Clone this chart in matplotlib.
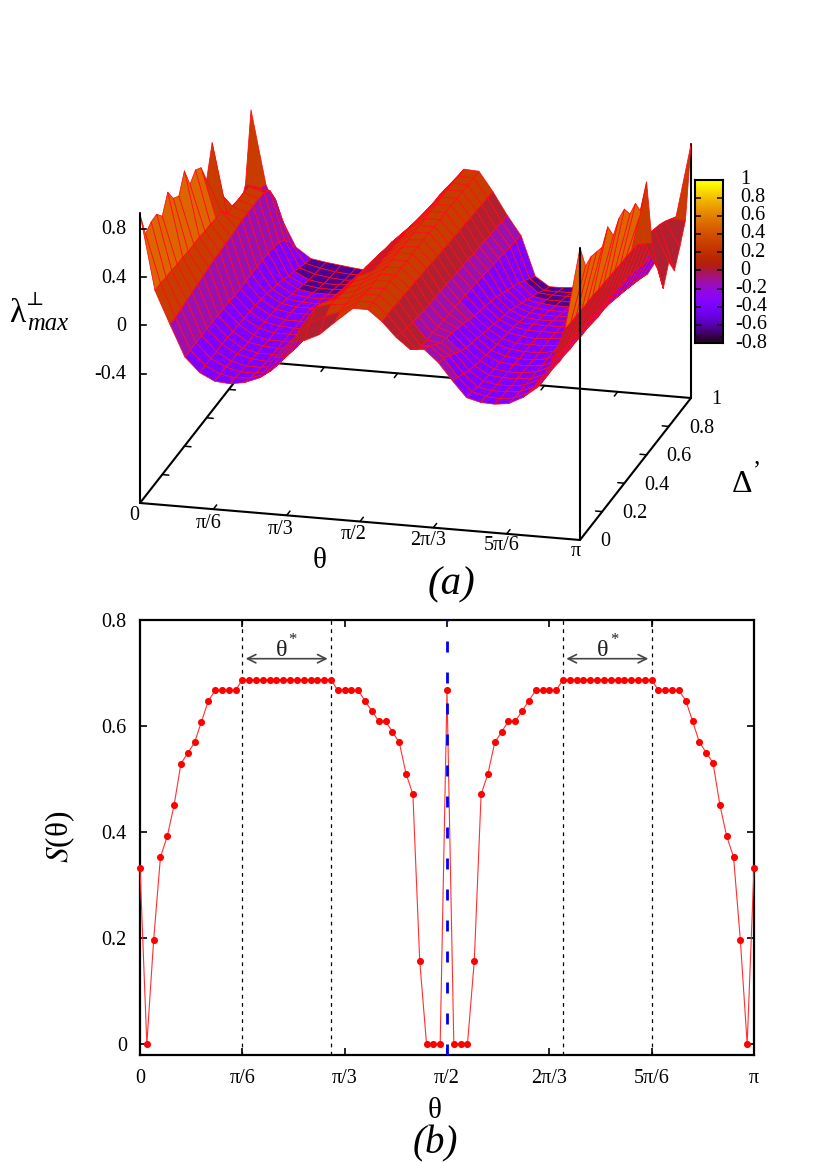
import numpy as np
import matplotlib
matplotlib.use("Agg")
import matplotlib.pyplot as plt
from matplotlib.collections import PolyCollection

plt.rcParams['font.family'] = ['Liberation Serif', 'DejaVu Serif']
plt.rcParams['mathtext.fontset'] = 'stix'

# ---------- panel (a): surface data ----------
THETA_FRAC = [0, .034, .068, .102, .136, .17, .204, .238, .272, .306, .34, .374, .408, .442, .484, .518,
              .55, .582, .614, .646, .678, .71, .742, .774, .806, .838, .87, .902, .934, .966, 1]   # theta / pi
DELTA = [0, .05, .1, .15, .2, .25, .3, .35, .4, .45, .5, .55, .6, .65, .7, .75, .8, .85, .9, .95, 1]
Z_COL_00 = [.92,.70,.74,.745,.67,.81,.70,.66,.81,.64,.70,.66,.50,.75,.30,.03,.0,-.04,-.08,.05,.61]
Z_COL_01 = [.30,.30,.29,.29,.28,.28,.27,.27,.27,.26,.26,.25,.25,.17,.17,.17,.17,.16,.08,.03,.0]
Z_COL_02 = [.03,.03,.04,.05,.06,.07,.08,.09,.1,.1,.11,.11,.12,.13,.13,.13,.13,.12,.08,-.05,-.26]
Z_COL_03 = [-.23,-.23,-.23,-.23,-.23,-.23,-.24,-.24,-.24,-.25,-.25,-.25,-.25,-.25,-.25,-.25,-.26,-.28,-.32,-.4,-.495]
Z_COL_04 = [-.35,-.35,-.35,-.35,-.35,-.35,-.36,-.36,-.37,-.37,-.38,-.39,-.4,-.42,-.44,-.46,-.49,-.51,-.54,-.56,-.58]
Z_COL_05 = [-.41,-.41,-.41,-.42,-.42,-.43,-.44,-.44,-.44,-.45,-.45,-.46,-.47,-.49,-.51,-.53,-.55,-.57,-.58,-.59,-.60]
Z_COL_06 = [-.42,-.43,-.44,-.45,-.45,-.46,-.46,-.47,-.47,-.47,-.48,-.48,-.49,-.51,-.53,-.55,-.57,-.59,-.60,-.61,-.615]
Z_COL_07 = [-.40,-.42,-.44,-.45,-.46,-.46,-.47,-.47,-.47,-.48,-.48,-.48,-.49,-.51,-.53,-.55,-.57,-.59,-.61,-.62,-.63]
Z_COL_08 = [-.35,-.38,-.41,-.43,-.44,-.45,-.45,-.46,-.46,-.47,-.47,-.47,-.48,-.5,-.52,-.54,-.56,-.58,-.6,-.62,-.64]
Z_COL_09 = [-.17,-.23,-.28,-.3,-.32,-.33,-.34,-.35,-.36,-.36,-.37,-.38,-.39,-.41,-.43,-.45,-.47,-.49,-.5,-.51,-.52]
Z_COL_10 = [-.03,-.05,-.03,-.08,-.12,-.15,-.17,-.18,-.19,-.2,-.21,-.22,-.23,-.25,-.27,-.29,-.31,-.33,-.35,-.37,-.38]
Z_COL_11 = [-.01,.08,.15,.12,.08,.05,.03,.01,.0,-.02,-.04,-.05,-.07,-.09,-.11,-.13,-.15,-.17,-.19,-.22,-.25]
Z_COL_12 = [.05,.14,.18,.17,.15,.14,.13,.12,.11,.1,.09,.08,.06,.05,.03,.01,-.01,-.03,-.04,-.06,-.07]
Z_COL_13 = [.16,.19,.19,.19,.19,.19,.18,.18,.17,.17,.16,.16,.15,.15,.14,.13,.12,.11,.1,.1,.09]
Z_COL_14 = [.29,.29,.29,.28,.28,.28,.28,.28,.28,.27,.27,.27,.27,.27,.27,.27,.27,.27,.27,.27,.267]
Z_COL_15 = [.29,.29,.29,.29,.29,.28,.28,.28,.28,.28,.28,.28,.27,.27,.27,.27,.27,.27,.26,.26,.26]
Z_COL_16 = [.20,.20,.20,.19,.19,.18,.18,.17,.17,.16,.15,.15,.14,.14,.13,.13,.12,.12,.11,.11,.10]
Z_COL_17 = [.08,.06,.04,.03,.02,.01,.0,.0,-.01,-.01,-.02,-.03,-.03,-.04,-.05,-.05,-.06,-.07,-.07,-.08,-.083]
Z_COL_18 = [-.01,-.07,-.1,-.11,-.11,-.12,-.12,-.13,-.13,-.14,-.15,-.15,-.16,-.17,-.18,-.19,-.2,-.21,-.22,-.23,-.245]
Z_COL_19 = [.0,-.03,-.08,-.12,-.14,-.16,-.18,-.2,-.23,-.25,-.27,-.29,-.31,-.33,-.36,-.39,-.42,-.45,-.49,-.53,-.57]
Z_COL_20 = [-.10,-.12,-.16,-.2,-.24,-.27,-.29,-.31,-.33,-.35,-.37,-.39,-.41,-.43,-.46,-.49,-.52,-.55,-.58,-.62,-.647]
Z_COL_21 = [-.24,-.27,-.3,-.33,-.35,-.37,-.38,-.4,-.41,-.42,-.43,-.44,-.46,-.48,-.5,-.52,-.54,-.57,-.59,-.62,-.645]
Z_COL_22 = [-.37,-.38,-.4,-.41,-.42,-.43,-.43,-.44,-.44,-.45,-.45,-.46,-.47,-.49,-.51,-.53,-.55,-.57,-.59,-.62,-.634]
Z_COL_23 = [-.40,-.41,-.42,-.43,-.43,-.44,-.44,-.45,-.45,-.45,-.46,-.46,-.47,-.49,-.51,-.53,-.55,-.57,-.59,-.61,-.63]
Z_COL_24 = [-.405,-.42,-.42,-.43,-.43,-.44,-.44,-.45,-.45,-.45,-.45,-.46,-.47,-.48,-.5,-.52,-.54,-.56,-.58,-.6,-.62]
Z_COL_25 = [-.39,-.4,-.41,-.41,-.42,-.42,-.43,-.43,-.43,-.44,-.44,-.44,-.45,-.46,-.48,-.5,-.52,-.54,-.56,-.58,-.60]
Z_COL_26 = [-.33,-.35,-.36,-.36,-.37,-.37,-.38,-.38,-.38,-.39,-.39,-.4,-.4,-.41,-.43,-.45,-.47,-.49,-.51,-.54,-.56]
Z_COL_27 = [-.24,-.25,-.25,-.25,-.26,-.26,-.27,-.27,-.28,-.28,-.29,-.3,-.3,-.31,-.33,-.35,-.37,-.39,-.41,-.44,-.47]
Z_COL_28 = [-.02,-.03,-.04,-.05,-.05,-.06,-.07,-.07,-.08,-.09,-.1,-.1,-.11,-.12,-.13,-.15,-.17,-.19,-.21,-.25,-.28]
Z_COL_29 = [.27,.26,.26,.25,.25,.25,.24,.24,.23,.23,.22,.22,.21,.2,.19,.17,.15,.13,.1,.06,.02]
Z_COL_30 = [.95,.74,.76,.74,.72,.83,.70,.78,.80,.70,.73,.60,.79,.225,-.05,-.27,-.11,-.24,-.10,.06,.63]
Z_TABLE = np.array([Z_COL_00,Z_COL_01,Z_COL_02,Z_COL_03,Z_COL_04,Z_COL_05,Z_COL_06,Z_COL_07,
                    Z_COL_08,Z_COL_09,Z_COL_10,Z_COL_11,Z_COL_12,Z_COL_13,Z_COL_14,Z_COL_15,
                    Z_COL_16,Z_COL_17,Z_COL_18,Z_COL_19,Z_COL_20,Z_COL_21,Z_COL_22,Z_COL_23,
                    Z_COL_24,Z_COL_25,Z_COL_26,Z_COL_27,Z_COL_28,Z_COL_29,Z_COL_30])
BAND_EDGES = [-.55, -.2, -.04, .145, .42]
BAND_COLORS = ['#4f0092', '#7f00ff', '#9c10b0', '#b02030', '#c83c00', '#de6400']
Z_TICKS = [-.4, 0, .4, .8]
Z_TICK_LABELS = ['-0.4', '0', '0.4', '0.8']
THETA_TICK_FRAC = [0, 1/6, 1/3, 1/2, 2/3, 5/6, 1]
THETA_TICK_LABELS = ['0', 'π/6', 'π/3', 'π/2', '2π/3', '5π/6', 'π']
DELTA_TICKS = [0, .2, .4, .6, .8, 1]
DELTA_TICK_LABELS = ['0', '0.2', '0.4', '0.6', '0.8', '1']
CB_TICKS = [-.8, -.6, -.4, -.2, 0, .2, .4, .6, .8, 1]
CB_TICK_LABELS = ['-0.8', '-0.6', '-0.4', '-0.2', '0', '0.2', '0.4', '0.6', '0.8', '1']

# ---------- panel (b): data ----------
S_INDEX = list(range(91))      # theta = index * pi / 90
S_VALUES = [.333,0,.196,.353,.392,.451,.529,.549,.569,.608,.647,.667,.667,.667,.667,
            .6875,.6875,.6875,.6875,.6875,.6875,.6875,.6875,.6875,.6875,.6875,.6875,.6875,.6875,
            .667,.667,.667,.667,.647,.628,.609,.609,.589,.569,.510,.471,.157,0,0,0,.667,
            0,0,0,.157,.471,.510,.569,.589,.609,.609,.628,.648,.667,.667,.667,.667,
            .6875,.6875,.6875,.6875,.6875,.6875,.6875,.6875,.6875,.6875,.6875,.6875,.6875,.6875,
            .667,.667,.667,.667,.648,.609,.569,.550,.530,.451,.392,.353,.196,0,.333]
B_XTICKS = [0, np.pi/6, np.pi/3, np.pi/2, 2*np.pi/3, 5*np.pi/6, np.pi]
B_YTICKS = [0, .2, .4, .6, .8]
B_YTICK_LABELS = ['0', '0.2', '0.4', '0.6', '0.8']
PLATEAU_LINES = [15, 28, 62, 75]   # indices of theta* limits

W, H = 830, 1162
fig = plt.figure(figsize=(W/100, H/100), dpi=100)
ax = fig.add_axes([0, 0, 1, 1])
ax.set_xlim(0, W); ax.set_ylim(H, 0); ax.axis('off')

ZBASE = -1.47
def proj(t, d, z):
    t, d, z = np.asarray(t, float), np.asarray(d, float), np.asarray(z, float)
    return 140 + 440*t + 111*d, 503 + 37*t - 142*d - (z - ZBASE)*120.75

def band_color(z):
    return BAND_COLORS[int(np.searchsorted(BAND_EDGES, z))]

LW = 1.5
def line3(p, q, lw=LW, z=1):
    xa, ya = proj(*p); xb, yb = proj(*q)
    ax.plot([xa, xb], [ya, yb], color='k', lw=lw, solid_capstyle='round', zorder=z)

line3((0, 0, ZBASE), (1, 0, ZBASE))
line3((1, 0, ZBASE), (1, 1, ZBASE))
line3((0, 0, ZBASE), (0, 1, ZBASE))
line3((0, 1, ZBASE), (1, 1, ZBASE))
line3((1, 1, ZBASE), (1, 1, .63))
for f in THETA_TICK_FRAC[1:-1]:
    line3((f, 0, ZBASE), (f, .03, ZBASE), lw=1.1)
    line3((f, 1, ZBASE), (f, .97, ZBASE), lw=1.1)
for d in DELTA_TICKS[1:-1]:
    line3((1, d, ZBASE), (.985, d, ZBASE), lw=1.1)
    line3((0, d, ZBASE), (.015, d, ZBASE), lw=1.1)

# surface: far quads first, one colour per quad
T = np.array(THETA_FRAC); D = np.array(DELTA); Z = Z_TABLE
quads = [(142*(D[j]+D[j+1])/2 - 37*(T[i]+T[i+1])/2, i, j)
         for i in range(len(T)-1) for j in range(len(D)-1)]
quads.sort(key=lambda q: -q[0])
verts, faces = [], []
for _, i, j in quads:
    corners = [(T[i], D[j], Z[i, j]), (T[i+1], D[j], Z[i+1, j]),
               (T[i+1], D[j+1], Z[i+1, j+1]), (T[i], D[j+1], Z[i, j+1])]
    verts.append([tuple(map(float, proj(*c))) for c in corners])
    faces.append(band_color(np.mean([c[2] for c in corners])))
ax.add_collection(PolyCollection(verts, facecolors=faces, edgecolors='#ff0a14',
                                 linewidths=.55, zorder=2))

line3((0, 0, ZBASE), (0, 0, .93), z=3)
line3((1, 0, ZBASE), (1, 0, .95), z=3)
for zv in Z_TICKS:
    xa, ya = proj(0, 0, zv)
    ax.plot([xa, xa+6], [ya, ya], color='k', lw=1.2, zorder=3)

TS = 14.5
for zv, lab in zip(Z_TICKS, Z_TICK_LABELS):
    xa, ya = proj(0, 0, zv)
    ax.text(xa-14, ya+1, lab, ha='right', va='center', fontsize=TS)
TH_LAB_OFF = [(-6, 13), (-5, 14), (-6, 14), (-6, 13), (-5, 13), (-5, 12), (-4, 12)]
for f, lab, (dx, dy) in zip(THETA_TICK_FRAC, THETA_TICK_LABELS, TH_LAB_OFF):
    xa, ya = proj(f, 0, ZBASE)
    ax.text(xa+dx, ya+dy, lab, ha='center', va='center', fontsize=TS)
for d, lab in zip(DELTA_TICKS, DELTA_TICK_LABELS):
    xa, ya = proj(1, d, ZBASE)
    ax.text(xa+20, ya+2, lab, ha='left', va='center', fontsize=TS)

ax.text(9, 321.5, 'λ', fontsize=24, ha='left', va='baseline')
ax.text(26, 305, '⊥', fontsize=14, ha='left', va='baseline')
ax.text(27, 330.5, 'max', fontsize=17.7, style='italic', ha='left', va='baseline')
ax.text(320, 568.5, 'θ', fontsize=21, ha='center', va='baseline')
ax.text(742, 491.5, 'Δ', fontsize=23, ha='center', va='baseline')
ax.text(757, 463, ',', fontsize=18, ha='center', va='baseline')
ax.text(451, 594, '(a)', fontsize=29.5, style='italic', ha='center', va='baseline')
ax.text(435, 1153, '(b)', fontsize=28, style='italic', ha='center', va='baseline')
ax.text(435, 1118, 'θ', fontsize=21, ha='center', va='baseline')

def frac_axes(x0, y0, x1, y1):
    return fig.add_axes([x0/W, 1-y1/H, (x1-x0)/W, (y1-y0)/H])
cax = frac_axes(695, 179.5, 723, 343)
xs = np.linspace(.03, 1, 20)
cb_rgb = np.stack([np.sqrt(xs), xs**3, np.clip(np.sin(2*np.pi*xs), 0, 1)], axis=1)
cax.imshow(cb_rgb[::-1][:, None, :], aspect='auto', extent=[0, 1, -.8, 1], interpolation='bilinear')
cax.set_xlim(0, 1); cax.set_ylim(-.8, 1)
cax.set_xticks([])
cax.set_yticks(CB_TICKS); cax.set_yticklabels([])
cax.tick_params(axis='y', direction='in', length=4.5, width=1.1, right=True, left=True)
for s in cax.spines.values():
    s.set_linewidth(1.5)
for v, lab in zip(CB_TICKS, CB_TICK_LABELS):
    cax.text(1.43 if lab.startswith('-') else 1.61, v, lab, ha='left', va='center',
             fontsize=TS, transform=cax.get_yaxis_transform())

# ---------- panel (b) ----------
bx = frac_axes(140, 620, 754, 1055)
th = np.array(S_INDEX) * np.pi / 90
bx.plot(th, S_VALUES, '-', color='#ff3030', lw=.8, zorder=6, clip_on=False)
bx.plot(th, S_VALUES, 'o', color='#ff0000', ms=5.1, mew=0, zorder=7, clip_on=False)
bx.set_xlim(0, np.pi); bx.set_ylim(-.0207, .8)
for k in PLATEAU_LINES:
    bx.axvline(k*np.pi/90, color='k', lw=.9, ls=(0, (3, 3.5)), zorder=2)
bx.axvline(np.pi/2, color='#0000f0', lw=2.0, ls=(0, (3.96, 7.2)), zorder=8)
bx.set_xticks(B_XTICKS); bx.set_xticklabels(THETA_TICK_LABELS, fontsize=TS)
bx.set_yticks(B_YTICKS); bx.set_yticklabels(B_YTICK_LABELS, fontsize=TS)
bx.tick_params(direction='in', length=5, width=1.2, top=True, right=True)
bx.tick_params(axis='x', pad=10)
bx.tick_params(axis='y', pad=9.5)
for s in bx.spines.values():
    s.set_linewidth(1.6)
bx.text(-.41, .39, '$S$(θ)', rotation=90, fontsize=22.5, ha='center', va='center')
for a, b, tx in [(15, 28, 20.7), (62, 75, 67.8)]:
    bx.annotate('', xy=(a*np.pi/90+.017, .727), xytext=(b*np.pi/90-.017, .727),
                arrowprops=dict(arrowstyle='<->', color='#444444', lw=1.2, shrinkA=0, shrinkB=0,
                                mutation_scale=15))
    bx.text(tx*np.pi/90, .733, 'θ', fontsize=17.5, ha='center', va='baseline', color='#222222')
    bx.text((tx+1.7)*np.pi/90, .754, '*', fontsize=12, ha='center', va='baseline', color='#222222')

fig.savefig('out.png', dpi=100)
